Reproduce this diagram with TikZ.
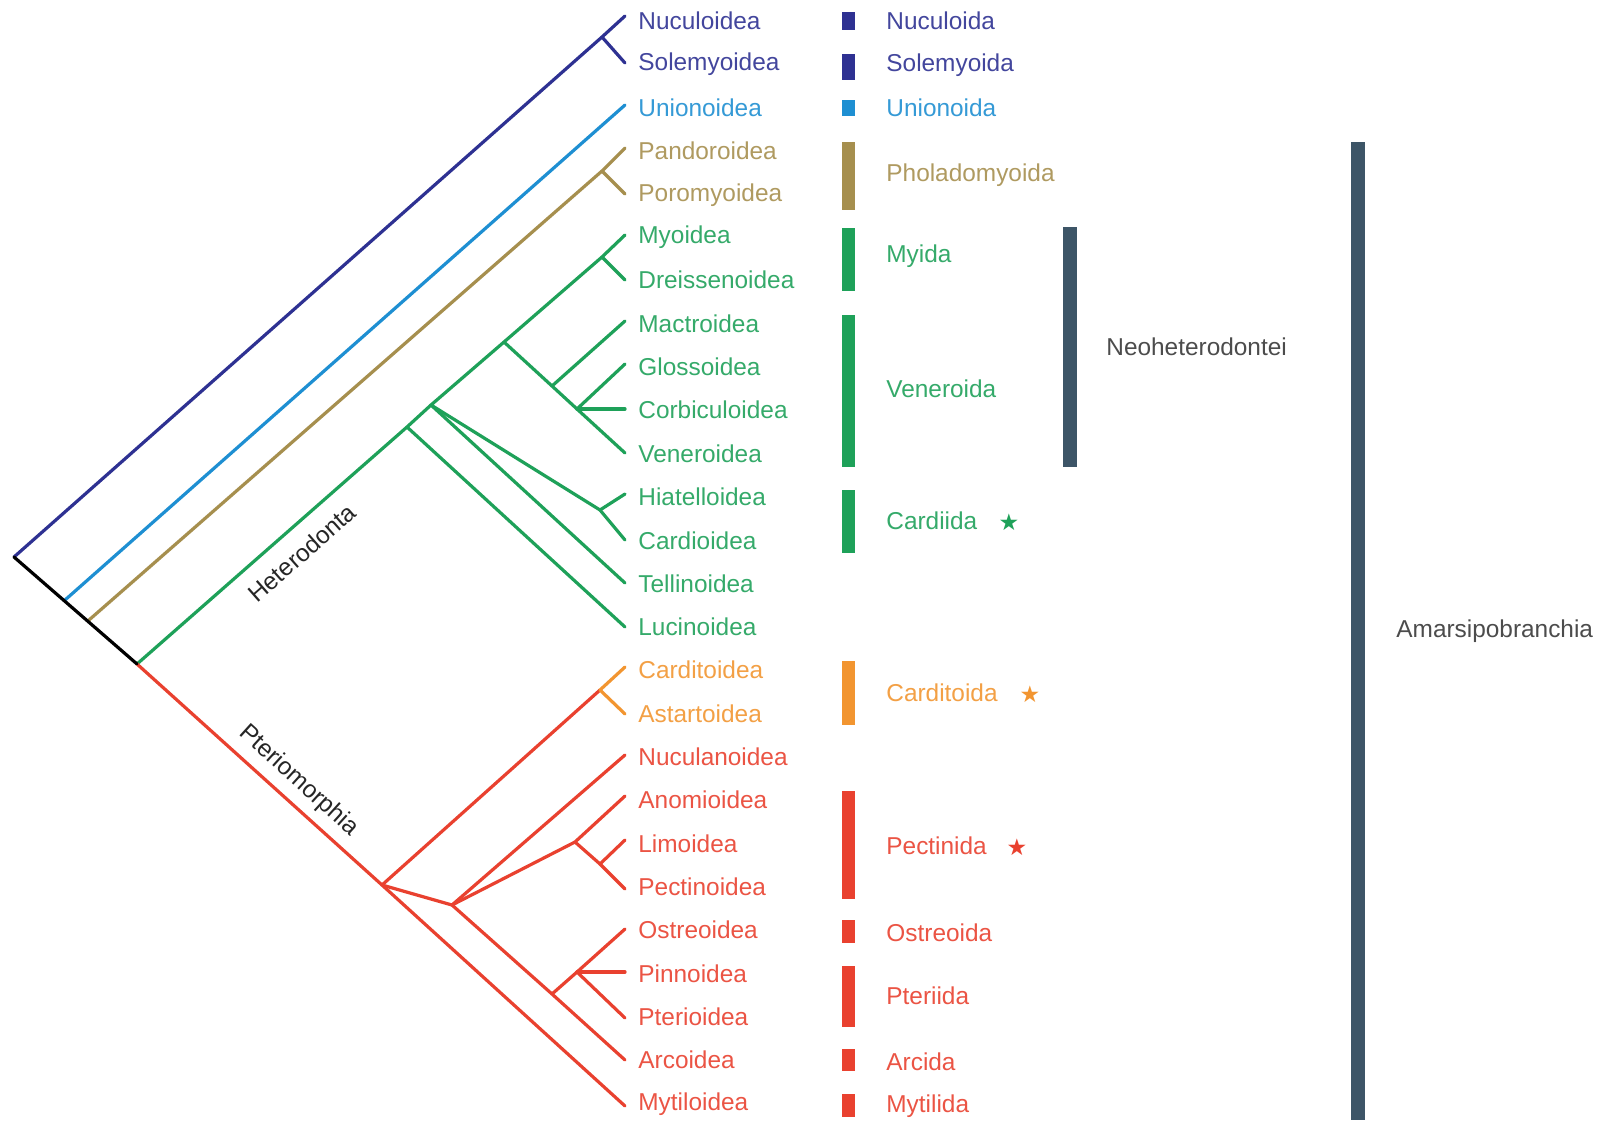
\documentclass[tikz,border=0pt]{standalone}
\usepackage{fontspec}
\setmainfont{Liberation Sans}
\newfontfamily\starfont{DejaVu Sans}
\usepackage{tikz}

\definecolor{protoblue}{HTML}{2E3192}
\definecolor{unioblue}{HTML}{1E8FD2}
\definecolor{anomtan}{HTML}{A68F4E}
\definecolor{hetgreen}{HTML}{1EA159}
\definecolor{cardorange}{HTML}{F29530}
\definecolor{pterred}{HTML}{E9412F}
\definecolor{slate}{HTML}{3D5567}

\begin{document}
\begin{tikzpicture}[x=0.5pt,y=-0.5pt,
    branch/.style={line width=1.6pt,line cap=round,line join=round},
    taxon/.style={anchor=west,inner sep=0pt,font=\fontsize{12.2}{14}\selectfont},
    orderbar/.style={line width=6.5pt},
    starmark/.style={inner sep=0pt,font=\starfont\fontsize{11.5}{12}\selectfont}]
    \fill[white] (0,0) rectangle (1599,1120);
    \useasboundingbox (0,0) rectangle (1599,1120);

    % Define the tips of the tree
    \coordinate (tNucu) at (625,16);
    \coordinate (tSole) at (625,63);
    \coordinate (tUnio) at (625,105);
    \coordinate (tPand) at (625,148);
    \coordinate (tPoro) at (625,194);
    \coordinate (tMyoi) at (625,235);
    \coordinate (tDrei) at (625,280);
    \coordinate (tMact) at (625,321);
    \coordinate (tGlos) at (625,364);
    \coordinate (tCorb) at (625,409);
    \coordinate (tVene) at (625,453);
    \coordinate (tHiat) at (625,494);
    \coordinate (tCard) at (625,540);
    \coordinate (tTell) at (625,583);
    \coordinate (tLuci) at (625,627);
    \coordinate (tCrdt) at (625,667);
    \coordinate (tAsta) at (625,714);
    \coordinate (tNucl) at (625,755);
    \coordinate (tAnom) at (625,796);
    \coordinate (tLimo) at (625,840);
    \coordinate (tPect) at (625,889);
    \coordinate (tOstr) at (625,929);
    \coordinate (tPinn) at (625,972);
    \coordinate (tPter) at (625,1018);
    \coordinate (tArco) at (625,1060);
    \coordinate (tMyti) at (625,1106);

    % Define the inner nodes
    \coordinate (root) at (14,557);
    \coordinate (nB) at (65,600);
    \coordinate (nT) at (89,620);
    \coordinate (nG) at (137,664);
    \coordinate (nN) at (602,37);
    \coordinate (nPa) at (602,171);
    \coordinate (nL) at (407,427);
    \coordinate (nH) at (431,405);
    \coordinate (nV) at (504,342);
    \coordinate (nM) at (602,257);
    \coordinate (nV1) at (552,386);
    \coordinate (nV2) at (577,409);
    \coordinate (nHC) at (600,510);
    \coordinate (nP) at (382,885);
    \coordinate (nQ) at (452,905);
    \coordinate (nC) at (600,690);
    \coordinate (nPe) at (575,842);
    \coordinate (nLi) at (600,864);
    \coordinate (nO1) at (552,994);
    \coordinate (nO2) at (577,972);

    % Draw the protobranchs, Unionoida and Anomalodesmata
    \draw[branch,protoblue] (root) -- (nN) -- (tNucu);
    \draw[branch,protoblue] (nN) -- (tSole);
    \draw[branch,unioblue] (nB) -- (tUnio);
    \draw[branch,anomtan] (nT) -- (nPa) -- (tPand);
    \draw[branch,anomtan] (nPa) -- (tPoro);

    % Draw Heterodonta
    \draw[branch,hetgreen] (nG) -- (nL) -- (nH) -- (nV) -- (nM) -- (tMyoi);
    \draw[branch,hetgreen] (nM) -- (tDrei);
    \draw[branch,hetgreen] (nV) -- (nV1) -- (nV2) -- (tVene);
    \draw[branch,hetgreen] (nV1) -- (tMact);
    \draw[branch,hetgreen] (nV2) -- (tGlos);
    \draw[branch,hetgreen] (nV2) -- (tCorb);
    \draw[branch,hetgreen] (nH) -- (nHC) -- (tCard);
    \draw[branch,hetgreen] (nHC) -- (tHiat);
    \draw[branch,hetgreen] (nH) -- (tTell);
    \draw[branch,hetgreen] (nL) -- (tLuci);

    % Draw Pteriomorphia
    \draw[branch,pterred] (nG) -- (nP) -- (tMyti);
    \draw[branch,pterred] (nP) -- (nC);
    \draw[branch,cardorange] (nC) -- (tCrdt);
    \draw[branch,cardorange] (nC) -- (tAsta);
    \draw[branch,pterred] (nP) -- (nQ) -- (tNucl);
    \draw[branch,pterred] (nQ) -- (nPe) -- (tAnom);
    \draw[branch,pterred] (nPe) -- (nLi) -- (tPect);
    \draw[branch,pterred] (nLi) -- (tLimo);
    \draw[branch,pterred] (nQ) -- (nO1) -- (tArco);
    \draw[branch,pterred] (nO1) -- (nO2) -- (tOstr);
    \draw[branch,pterred] (nO2) -- (tPinn);
    \draw[branch,pterred] (nO2) -- (tPter);

    % Draw the trunk last
    \draw[branch,black] (root) -- (nG);

    % Labels of the two big clades
    \node[taxon,anchor=center,rotate=41.4,text=black!85] (lHete) at (302,553) {Heterodonta};
    \node[taxon,anchor=center,rotate=-42.2,text=black!85] (lPter) at (299,781) {Pteriomorphia};

    % Names of the superfamilies
    \node[taxon,text=protoblue!90!white] (lNucu) at (638,21) {Nuculoidea};
    \node[taxon,text=protoblue!90!white] (lSole) at (638,64) {Solemyoidea};
    \node[taxon,text=unioblue!90!white] (lUnio) at (638,108) {Unionoidea};
    \node[taxon,text=anomtan!90!white] (lPand) at (638,151) {Pandoroidea};
    \node[taxon,text=anomtan!90!white] (lPoro) at (638,195) {Poromyoidea};
    \node[taxon,text=hetgreen!90!white] (lMyoi) at (638,237) {Myoidea};
    \node[taxon,text=hetgreen!90!white] (lDrei) at (638,280) {Dreissenoidea};
    \node[taxon,text=hetgreen!90!white] (lMact) at (638,324) {Mactroidea};
    \node[taxon,text=hetgreen!90!white] (lGlos) at (638,367) {Glossoidea};
    \node[taxon,text=hetgreen!90!white] (lCorb) at (638,410) {Corbiculoidea};
    \node[taxon,text=hetgreen!90!white] (lVene) at (638,454) {Veneroidea};
    \node[taxon,text=hetgreen!90!white] (lHiat) at (638,497) {Hiatelloidea};
    \node[taxon,text=hetgreen!90!white] (lCard) at (638,541) {Cardioidea};
    \node[taxon,text=hetgreen!90!white] (lTell) at (638,584) {Tellinoidea};
    \node[taxon,text=hetgreen!90!white] (lLuci) at (638,627) {Lucinoidea};
    \node[taxon,text=cardorange!90!white] (lCrdt) at (638,670) {Carditoidea};
    \node[taxon,text=cardorange!90!white] (lAsta) at (638,714) {Astartoidea};
    \node[taxon,text=pterred!90!white] (lNucl) at (638,757) {Nuculanoidea};
    \node[taxon,text=pterred!90!white] (lAnom) at (638,800) {Anomioidea};
    \node[taxon,text=pterred!90!white] (lLimo) at (638,844) {Limoidea};
    \node[taxon,text=pterred!90!white] (lPect) at (638,887) {Pectinoidea};
    \node[taxon,text=pterred!90!white] (lOstr) at (638,930) {Ostreoidea};
    \node[taxon,text=pterred!90!white] (lPinn) at (638,974) {Pinnoidea};
    \node[taxon,text=pterred!90!white] (lPter) at (638,1017) {Pterioidea};
    \node[taxon,text=pterred!90!white] (lArco) at (638,1060) {Arcoidea};
    \node[taxon,text=pterred!90!white] (lMyti) at (638,1104) {Mytiloidea};

    % Bars of the orders
    \draw[orderbar,protoblue] (848.5,12) -- (848.5,30);
    \draw[orderbar,protoblue] (848.5,54) -- (848.5,80);
    \draw[orderbar,unioblue] (848.5,100) -- (848.5,116);
    \draw[orderbar,anomtan] (848.5,142) -- (848.5,210);
    \draw[orderbar,hetgreen] (848.5,228) -- (848.5,291);
    \draw[orderbar,hetgreen] (848.5,315) -- (848.5,467);
    \draw[orderbar,hetgreen] (848.5,490) -- (848.5,553);
    \draw[orderbar,cardorange] (848.5,661) -- (848.5,725);
    \draw[orderbar,pterred] (848.5,791) -- (848.5,899);
    \draw[orderbar,pterred] (848.5,920) -- (848.5,943);
    \draw[orderbar,pterred] (848.5,966) -- (848.5,1027);
    \draw[orderbar,pterred] (848.5,1049) -- (848.5,1071);
    \draw[orderbar,pterred] (848.5,1094) -- (848.5,1117);

    % Names of the orders
    \node[taxon,text=protoblue!90!white] (oNucu) at (886,21) {Nuculoida};
    \node[taxon,text=protoblue!90!white] (oSole) at (886,65) {Solemyoida};
    \node[taxon,text=unioblue!90!white] (oUnio) at (886,108) {Unionoida};
    \node[taxon,text=anomtan!90!white] (oPhol) at (886,175) {Pholadomyoida};
    \node[taxon,text=hetgreen!90!white] (oMyid) at (886,256) {Myida};
    \node[taxon,text=hetgreen!90!white] (oVene) at (886,389) {Veneroida};
    \node[taxon,text=hetgreen!90!white] (oCard) at (886,521) {Cardiida};
    \node[taxon,text=cardorange!90!white] (oCrdt) at (886,693) {Carditoida};
    \node[taxon,text=pterred!90!white] (oPect) at (886,846) {Pectinida};
    \node[taxon,text=pterred!90!white] (oOstr) at (886,933) {Ostreoida};
    \node[taxon,text=pterred!90!white] (oPter) at (886,996) {Pteriida};
    \node[taxon,text=pterred!90!white] (oArci) at (886,1062) {Arcida};
    \node[taxon,text=pterred!90!white] (oMyti) at (886,1106) {Mytilida};

    % Stars
    \node[starmark,text=hetgreen] (sCard) at (1009,522) {★};
    \node[starmark,text=cardorange] (sCrdt) at (1030,694) {★};
    \node[starmark,text=pterred] (sPect) at (1017,847) {★};

    % Higher groups
    \draw[line width=7pt,slate] (1070,227) -- (1070,467);
    \node[taxon,text=black!70] (gNeoh) at (1106,347) {Neoheterodontei};
    \draw[line width=7pt,slate] (1358,142) -- (1358,1120);
    \node[taxon,text=black!70] (gAmar) at (1396,631) {Amarsipobranchia};
\end{tikzpicture}
\end{document}
